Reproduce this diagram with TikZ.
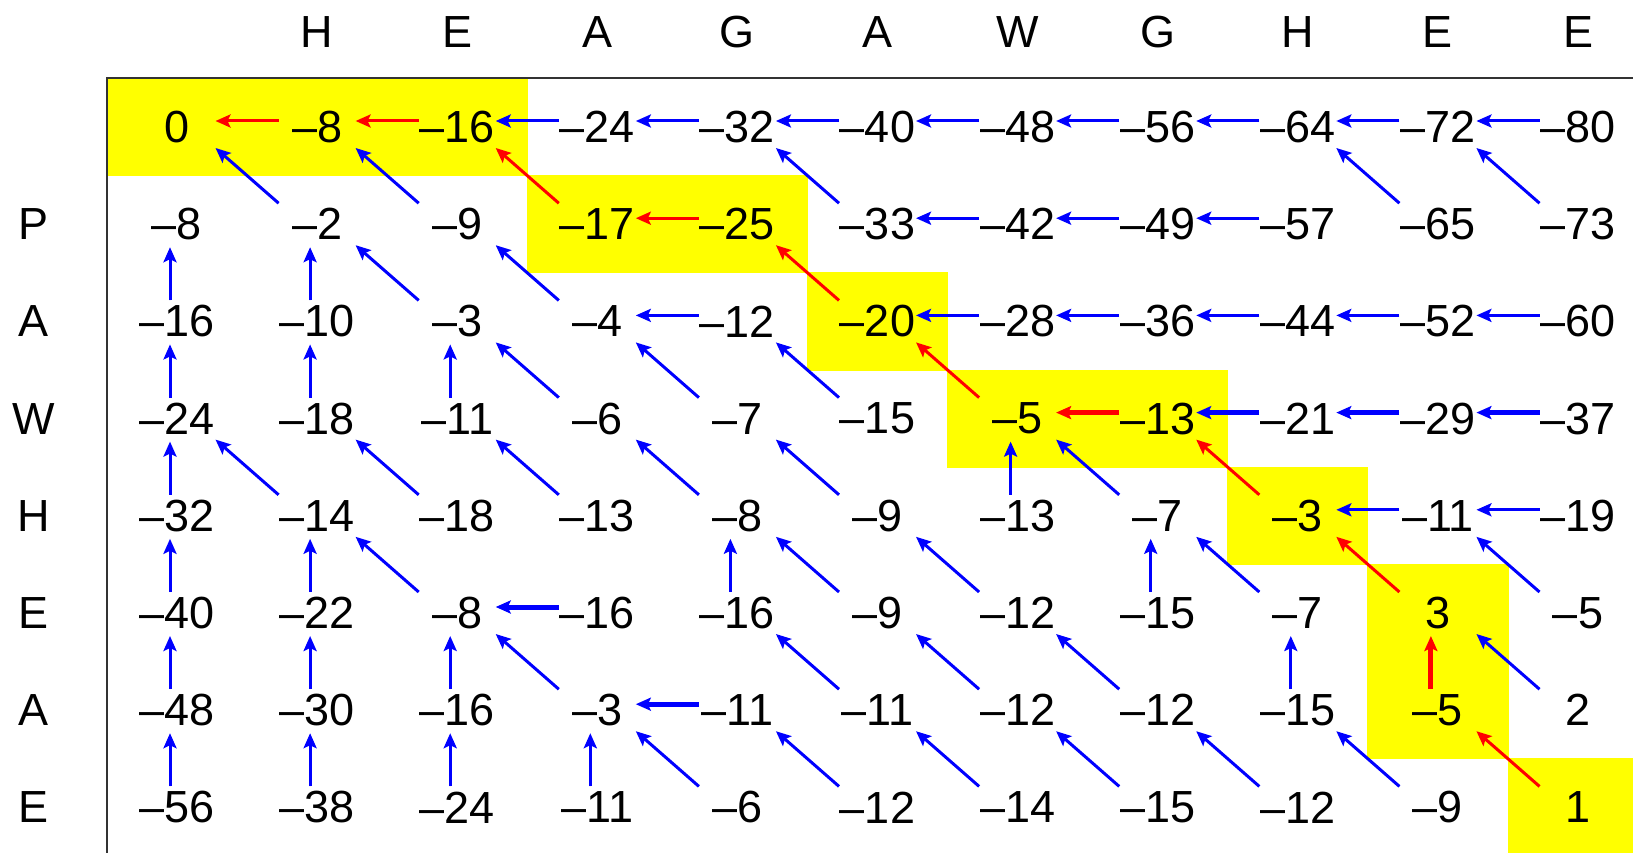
\documentclass[tikz,border=0pt]{standalone}
\usepackage{fontspec}
\setmainfont{Liberation Sans}
\usetikzlibrary{arrows.meta}
\definecolor{pathyellow}{RGB}{255,255,0}
\definecolor{arrblue}{RGB}{0,0,255}
\definecolor{arrred}{RGB}{255,0,0}
\begin{document}
\begin{tikzpicture}[x=1pt,y=-1pt,
  cell/.style={inner sep=0pt,font=\fontsize{45}{54}\selectfont},
  lab/.style={inner sep=0pt,font=\fontsize{45}{54}\selectfont},
  arr/.style={line width=3pt,-{Stealth[length=15pt,width=13pt,inset=3pt]}},
  ablue/.style={arr,draw=arrblue,fill=arrblue},
  ared/.style={arr,draw=arrred,fill=arrred},
  heavy/.style={line width=5pt},
  pathcell/.style={fill=pathyellow}
]
\useasboundingbox (0,0) rectangle (1633,853);
\clip (0,0) rectangle (1633,853);
% highlighted path cells
\foreach \i/\j in {0/0,0/1,0/2,1/3,1/4,2/5,3/6,3/7,4/8,5/9,6/9,7/10}
  \path[pathcell] ({107+140.1*\j-0.5},{78.4+97.2*\i-0.5}) rectangle ++(141.1,98.2);
% frame
\draw[line width=1.5pt,black!80] (1640,78) -- (107,78) -- (107,860);
% headers
\foreach \l [count=\j from 1] in {H,E,A,G,A,W,G,H,E,E}
  \node[lab] (h-\j) at ({177+140.1*\j},32) {\l};
\foreach \l [count=\i from 1] in {P,A,W,H,E,A,E}
  \node[lab] (r-\i) at (34,{127+97.2*\i}) {\l};
% cells
\foreach \v [count=\j from 0] in {0,–8,–16,–24,–32,–40,–48,–56,–64,–72,–80}
  \node[cell] (c-0-\j) at ({177+140.1*\j},{127+97.2*0}) {\v};
\foreach \v [count=\j from 0] in {–8,–2,–9,–17,–25,–33,–42,–49,–57,–65,–73}
  \node[cell] (c-1-\j) at ({177+140.1*\j},{127+97.2*1}) {\v};
\foreach \v [count=\j from 0] in {–16,–10,–3,–4,–12,–20,–28,–36,–44,–52,–60}
  \node[cell] (c-2-\j) at ({177+140.1*\j},{127+97.2*2}) {\v};
\foreach \v [count=\j from 0] in {–24,–18,–11,–6,–7,–15,–5,–13,–21,–29,–37}
  \node[cell] (c-3-\j) at ({177+140.1*\j},{127+97.2*3}) {\v};
\foreach \v [count=\j from 0] in {–32,–14,–18,–13,–8,–9,–13,–7,–3,–11,–19}
  \node[cell] (c-4-\j) at ({177+140.1*\j},{127+97.2*4}) {\v};
\foreach \v [count=\j from 0] in {–40,–22,–8,–16,–16,–9,–12,–15,–7,3,–5}
  \node[cell] (c-5-\j) at ({177+140.1*\j},{127+97.2*5}) {\v};
\foreach \v [count=\j from 0] in {–48,–30,–16,–3,–11,–11,–12,–12,–15,–5,2}
  \node[cell] (c-6-\j) at ({177+140.1*\j},{127+97.2*6}) {\v};
\foreach \v [count=\j from 0] in {–56,–38,–24,–11,–6,–12,–14,–15,–12,–9,1}
  \node[cell] (c-7-\j) at ({177+140.1*\j},{127+97.2*7}) {\v};
% horizontal arrows
\foreach \s/\t in {0-3/0-2,0-4/0-3,0-5/0-4,0-6/0-5,0-7/0-6,0-8/0-7,0-9/0-8,0-10/0-9,
  1-6/1-5,1-7/1-6,1-8/1-7,2-4/2-3,2-6/2-5,2-7/2-6,2-8/2-7,2-9/2-8,2-10/2-9,
  4-9/4-8,4-10/4-9}
  \draw[ablue] ([shift={(-38.5,-6)}]c-\s.center) -- ([shift={(38.5,-6)}]c-\t.center);
\foreach \s/\t in {3-8/3-7,3-9/3-8,3-10/3-9,5-3/5-2,6-4/6-3}
  \draw[ablue,heavy] ([shift={(-38.5,-6)}]c-\s.center) -- ([shift={(38.5,-6)}]c-\t.center);
\foreach \s/\t in {0-1/0-0,0-2/0-1,1-4/1-3}
  \draw[ared] ([shift={(-38.5,-6)}]c-\s.center) -- ([shift={(38.5,-6)}]c-\t.center);
\draw[ared,heavy] ([shift={(-38.5,-6)}]c-3-7.center) -- ([shift={(38.5,-6)}]c-3-6.center);
% vertical arrows
\foreach \s/\t in {2-0/1-0,2-1/1-1,3-0/2-0,3-1/2-1,3-2/2-2,4-0/3-0,4-6/3-6,
  5-0/4-0,5-1/4-1,5-4/4-4,5-7/4-7,6-0/5-0,6-1/5-1,6-2/5-2,6-8/5-8,
  7-0/6-0,7-1/6-1,7-2/6-2,7-3/6-3}
  \draw[ablue] ([shift={(-7,-21)}]c-\s.center) -- ([shift={(-7,23)}]c-\t.center);
\draw[ared,heavy] ([shift={(-7,-21)}]c-6-9.center) -- ([shift={(-7,23)}]c-5-9.center);
% diagonal arrows
\foreach \s/\t in {1-1/0-0,1-2/0-1,1-5/0-4,1-9/0-8,1-10/0-9,2-2/1-1,2-3/1-2,
  3-3/2-2,3-4/2-3,3-5/2-4,4-1/3-0,4-2/3-1,4-3/3-2,4-4/3-3,4-5/3-4,4-7/3-6,
  5-2/4-1,5-5/4-4,5-6/4-5,5-8/4-7,5-10/4-9,6-3/5-2,6-5/5-4,6-6/5-5,6-7/5-6,6-10/5-9,
  7-4/6-3,7-5/6-4,7-6/6-5,7-7/6-6,7-8/6-7,7-9/6-8}
  \draw[ablue] ([shift={(-38.5,-21)}]c-\s.center) -- ([shift={(38.5,21)}]c-\t.center);
\foreach \s/\t in {1-3/0-2,2-5/1-4,3-6/2-5,4-8/3-7,5-9/4-8,7-10/6-9}
  \draw[ared] ([shift={(-38.5,-21)}]c-\s.center) -- ([shift={(38.5,21)}]c-\t.center);
\end{tikzpicture}
\end{document}
